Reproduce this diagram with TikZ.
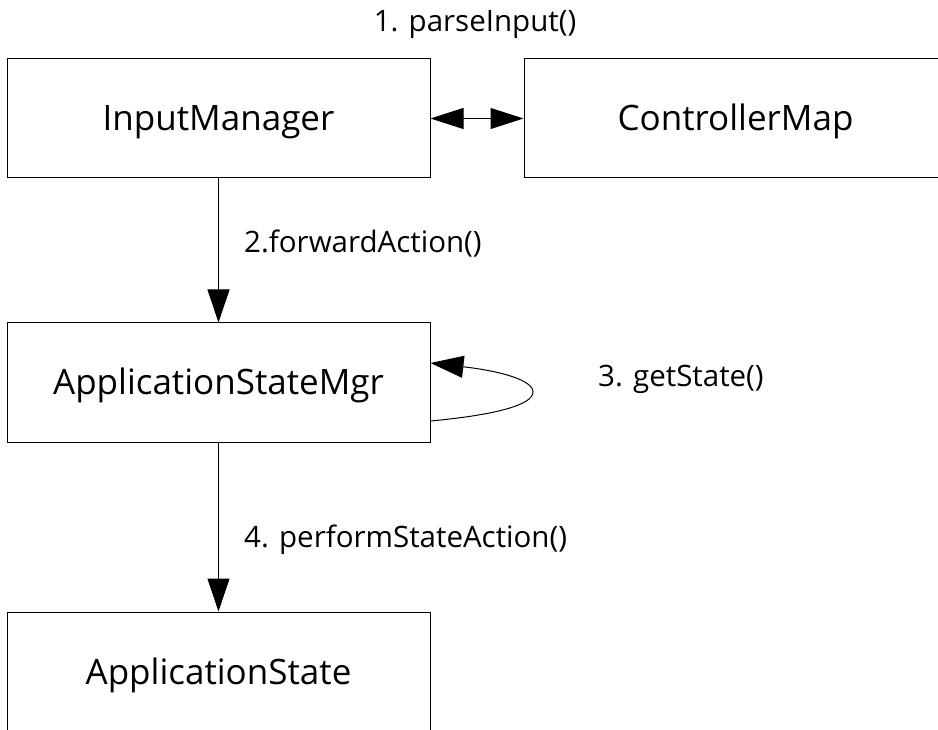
\documentclass[tikz,border=0pt]{standalone}
\usepackage{fontspec}
\setmainfont{Open Sans}
\usetikzlibrary{arrows.meta}
\tikzset{
  box/.style={draw=black, line width=1pt, minimum width=423pt, minimum height=119pt, inner sep=0pt, text height=25pt, text depth=0pt, font=\fontsize{35}{40}\selectfont},
  lbl/.style={inner sep=0pt, font=\fontsize{29.5}{34}\selectfont},
  arr/.style={line width=1pt, -{Triangle[length=33pt,width=22pt]}},
  biarr/.style={line width=1pt, {Triangle[length=33pt,width=21pt]}-{Triangle[length=33pt,width=21pt]}}
}
\begin{document}
\begin{tikzpicture}[x=1pt,y=-1pt]
\useasboundingbox (0,0) rectangle (938,730);
\clip (0,0) rectangle (938,730);
\node[box] (im) at (218.5,118.5) {InputManager};
\node[box] (cm) at (735.5,118.5) {ControllerMap};
\node[box] (asm) at (218.5,382.5) {ApplicationStateMgr};
\node[box] (as) at (218.5,671.5) {ApplicationState};
\draw[biarr] (im.east) -- (cm.west);
\draw[arr] (im.south) -- (asm.north);
\draw[arr] (asm.south) -- (as.north);
\coordinate (lb) at ([yshift=-38.5pt]asm.east);
\coordinate (lt) at ([yshift=19.5pt]asm.east);
\draw[arr] (lb) .. controls (495,415) and (533,405) .. (533,392) .. controls (533,380) and (500,371) .. (lt);
\node[lbl, anchor=base] (l1) at (475,32) {1. parseInput()};
\node[lbl, anchor=base west] (l2) at (244,253) {2.forwardAction()};
\node[lbl, anchor=base west] (l3) at (598,386) {3. getState()};
\node[lbl, anchor=base west] (l4) at (244,547) {4. performStateAction()};
\end{tikzpicture}
\end{document}
